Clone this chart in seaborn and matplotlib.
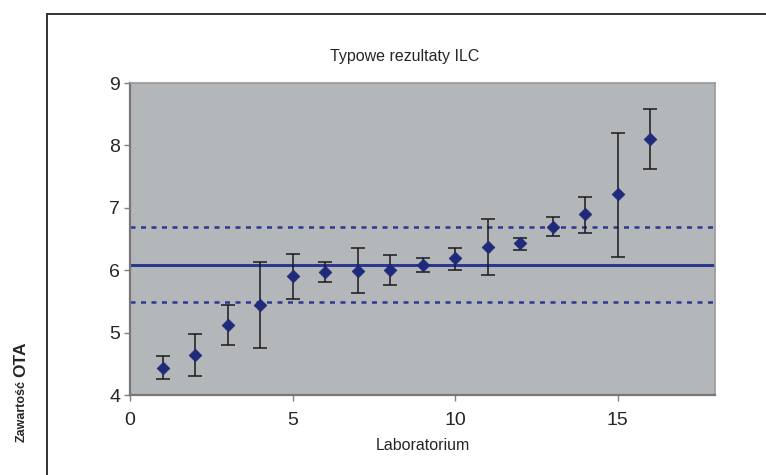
import matplotlib
matplotlib.use("Agg")
import matplotlib.pyplot as plt
import seaborn as sns
import numpy as np
import pandas as pd
from matplotlib.lines import Line2D

laboratoria = list(range(1, 17))
wyniki = [4.44, 4.64, 5.12, 5.45, 5.91, 5.97, 5.99, 6.01, 6.09, 6.19, 6.37, 6.44, 6.69, 6.90, 7.22, 8.10]
dolne = [4.26, 4.30, 4.80, 4.76, 5.54, 5.81, 5.63, 5.77, 5.97, 6.01, 5.93, 6.33, 6.55, 6.59, 6.21, 7.62]
gorne = [4.62, 4.98, 5.44, 6.13, 6.26, 6.13, 6.35, 6.25, 6.19, 6.35, 6.82, 6.51, 6.85, 7.18, 8.20, 8.58]
srednia = 6.09
granica_dolna = 5.49
granica_gorna = 6.69

data = pd.DataFrame({"Laboratorium": laboratoria, "Wynik": wyniki,
                     "dolne": dolne, "gorne": gorne})

sns.set_style("white")
plt.rcParams["font.family"] = ["Liberation Sans", "DejaVu Sans"]

fig = plt.figure(figsize=(7.66, 4.75), dpi=100)
ax = fig.add_axes([130 / 766, 1 - 395 / 475, 585 / 766, 312 / 475])
ax.set_facecolor("#b4b7b9")

navy = "#2b3990"
ax.axhline(srednia, color=navy, lw=2.2, zorder=2)
ax.axhline(granica_dolna, color=navy, lw=1.8, ls=(0, (2, 2.2)), zorder=2)
ax.axhline(granica_gorna, color=navy, lw=1.8, ls=(0, (2, 2.2)), zorder=2)

yerr = np.array([data["Wynik"] - data["dolne"], data["gorne"] - data["Wynik"]])
ax.errorbar(data["Laboratorium"], data["Wynik"], yerr=yerr, fmt="none",
            ecolor="#1a1a1a", elinewidth=1.1, capsize=5, capthick=1.1, zorder=3)
sns.scatterplot(data=data, x="Laboratorium", y="Wynik", marker="D", s=42,
                color="#1f2b7a", edgecolor="#1f2b7a", ax=ax, zorder=4)

ax.set_xlim(0, 18)
ax.set_ylim(4, 9)
ax.set_xticks([0, 5, 10, 15])
ax.set_yticks([4, 5, 6, 7, 8, 9])
ax.tick_params(axis="both", labelsize=14, length=4, width=1, color="#808080",
               direction="out", left=True, bottom=True)
ax.tick_params(axis="x", pad=8)
ax.tick_params(axis="y", pad=3)
for side in ["left", "bottom"]:
    ax.spines[side].set_color("#777777")
    ax.spines[side].set_linewidth(1.6)
for side in ["top", "right"]:
    ax.spines[side].set_color("#9a9a9a")
    ax.spines[side].set_linewidth(1.2)

ax.set_xlabel("Laboratorium", fontsize=11.5, labelpad=7)
ax.set_ylabel("")
fig.text(405 / 766, 1 - 57 / 475, "Typowe rezultaty ILC", fontsize=11.5,
         ha="center", va="center")

fig.text(22 / 766, 1 - 442 / 475, "Zawartość", rotation=90, fontsize=9,
         fontweight="bold", ha="center", va="bottom")
fig.text(21 / 766, 1 - 377 / 475, "OTA", rotation=90, fontsize=12.5,
         fontweight="bold", ha="center", va="bottom")

fig.add_artist(Line2D([47 / 766, 47 / 766], [0, 1 - 14 / 475], color="#333333", lw=1.4))
fig.add_artist(Line2D([47 / 766, 1], [1 - 14 / 475, 1 - 14 / 475], color="#333333", lw=1.4))

fig.savefig("out.png", dpi=100)
